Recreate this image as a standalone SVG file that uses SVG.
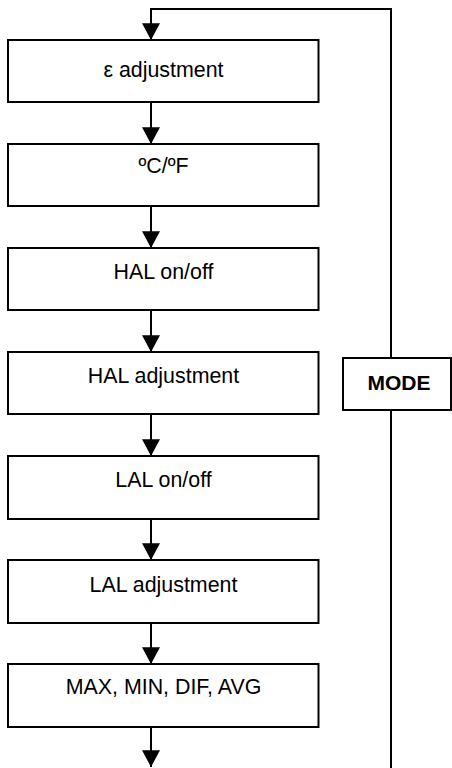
<svg xmlns="http://www.w3.org/2000/svg" width="452" height="768" viewBox="0 0 452 768">
<style>
.box{fill:#fff;stroke:#000;stroke-width:2}
.t{font-family:"Liberation Sans",Arial,sans-serif;font-size:21.4px;fill:#000;text-anchor:middle}
.b{font-weight:bold;font-size:21px}
.c{fill:none;stroke:#000;stroke-width:2}
</style>
<defs>
<marker id="ah" markerUnits="userSpaceOnUse" markerWidth="18" markerHeight="18" refX="8" refY="15" orient="0" viewBox="0 0 16 16">
<path d="M0,0 L16,0 L8,15 Z" fill="#000"/>
</marker>
</defs>
<g id="connectors">
<path class="c" d="M151,102 V144" marker-end="url(#ah)"/>
<path class="c" d="M151,206 V248" marker-end="url(#ah)"/>
<path class="c" d="M151,310 V352" marker-end="url(#ah)"/>
<path class="c" d="M151,414 V456" marker-end="url(#ah)"/>
<path class="c" d="M151,519 V560" marker-end="url(#ah)"/>
<path class="c" d="M151,623 V664" marker-end="url(#ah)"/>
<path class="c" d="M151,727 V767" marker-end="url(#ah)"/>
<path class="c" d="M391,768 V410"/>
<path class="c" d="M391,358 V9 H151 V40" marker-end="url(#ah)"/>
</g>
<g id="n1"><rect class="box" x="8" y="40" width="310.5" height="62"/><text class="t" x="163.5" y="77">ε adjustment</text></g>
<g id="n2"><rect class="box" x="8" y="144" width="310.5" height="62"/><text class="t" x="163.5" y="173">ºC/ºF</text></g>
<g id="n3"><rect class="box" x="8" y="248" width="310.5" height="62"/><text class="t" x="163.5" y="279">HAL on/off</text></g>
<g id="n4"><rect class="box" x="8" y="352" width="310.5" height="62"/><text class="t" x="163.5" y="383">HAL adjustment</text></g>
<g id="n5"><rect class="box" x="8" y="456" width="310.5" height="63"/><text class="t" x="163.5" y="487">LAL on/off</text></g>
<g id="n6"><rect class="box" x="8" y="560" width="310.5" height="63"/><text class="t" x="163.5" y="592">LAL adjustment</text></g>
<g id="n7"><rect class="box" x="8" y="664" width="310.5" height="63"/><text class="t" x="163.5" y="694">MAX, MIN, DIF, AVG</text></g>
<g id="mode"><rect class="box" x="343" y="358" width="108" height="52"/><text class="t b" x="399" y="390">MODE</text></g>
</svg>
